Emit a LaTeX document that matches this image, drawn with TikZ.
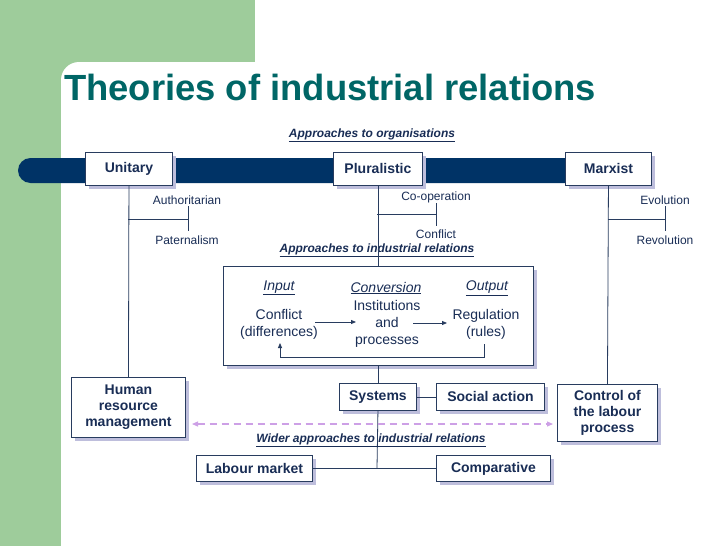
\documentclass[tikz,border=0pt]{standalone}
\usepackage{fontspec}
\setmainfont{Liberation Sans}
\usetikzlibrary{arrows.meta}
\definecolor{bggreen}{RGB}{158,204,155}
\definecolor{titleteal}{RGB}{0,102,102}
\definecolor{barnavy}{RGB}{0,51,102}
\definecolor{boxline}{RGB}{40,60,95}
\definecolor{txtnavy}{RGB}{25,45,85}
\definecolor{shadowc}{RGB}{190,190,220}
\definecolor{dashp}{RGB}{205,160,230}
\tikzset{
  box/.style={draw=boxline, line width=0.9pt, fill=white, font=\fontsize{14}{16}\selectfont\bfseries, text=txtnavy, align=center, inner sep=0pt},
  small/.style={font=\fontsize{12}{14}\selectfont, text=txtnavy, align=center, inner sep=0pt},
  inner/.style={font=\fontsize{14}{17}\selectfont, text=txtnavy, align=center, inner sep=0pt},
  head/.style={font=\fontsize{12}{14}\selectfont\bfseries\itshape, text=txtnavy, inner sep=0pt},
  conn/.style={draw=boxline, line width=0.8pt},
}
\newcommand{\shbx}[6]{% name, x1,y1,x2,y2,text
  \fill[shadowc] (#2+3.5,#3+3.5) rectangle (#4+3.5,#5+3.5);
  \node[box, minimum width=#4-#2, minimum height=#5-#3, anchor=north west] (#1) at (#2,#3) {#6};
}
\begin{document}
\begin{tikzpicture}[x=1pt,y=-1pt]
\useasboundingbox (0,0) rectangle (728,546);
% background
\fill[bggreen] (0,0) rectangle (255,90);
\fill[bggreen] (0,0) rectangle (61,546);
\fill[white] (61,546) -- (61,80) arc[start angle=180,end angle=270,radius=18] -- (728,62) -- (728,546) -- cycle;
\fill[white] (255,0) rectangle (728,62);
% title
\node[anchor=base west, font=\fontsize{36.4}{40}\selectfont\bfseries, text=titleteal, inner sep=0pt] (title) at (64,100) {Theories of industrial relations};
% heading
\node[head] (h1) at (372,135) {\underline{Approaches to organisations}};
% bar
\fill[barnavy, rounded corners=12.5pt] (18,158) rectangle (600,183);
% top boxes
\shbx{uni}{85}{152}{172}{185}{Unitary}
\shbx{plu}{333}{152}{422}{185}{Pluralistic}
\shbx{mar}{565}{152}{651}{185}{Marxist}
% sub labels
\node[small] (auth) at (187,200) {Authoritarian};
\node[small] (pat) at (187,240) {Paternalism};
\node[small] (coop) at (436,197) {Co-operation};
\node[small] (conf) at (436,234) {Conflict};
\node[small] (evo) at (665,200) {Evolution};
\node[small] (rev) at (665,240) {Revolution};
\coordinate (ut) at (188,219);
\coordinate (pt) at (436,214);
\coordinate (mt) at (665,219);
\draw[conn] (128,219) -- (ut);
\draw[conn] (188,206) -- (188,231);
\draw[conn] (377,214) -- (pt);
\draw[conn] (436,203) -- (436,226);
\draw[conn] (608,219) -- (mt);
\draw[conn] (665,206) -- (665,231);
% heading 2
\node[head] (h2) at (377,250) {\underline{Approaches to industrial relations}};
% big box
\fill[shadowc] (226.5,269.5) rectangle (536.5,368.5);
\node[draw=boxline, line width=0.9pt, fill=white, minimum width=310, minimum height=99, anchor=north west, inner sep=0pt] (big) at (223,266) {};
\node[inner, font=\fontsize{14}{17}\selectfont\itshape] (inp) at (279,288) {\underline{Input}};
\node[inner, font=\fontsize{14}{17}\selectfont\itshape] (cnv) at (386,288) {\underline{Conversion}};
\node[inner, font=\fontsize{14}{17}\selectfont\itshape] (outp) at (487,288) {\underline{Output}};
\node[inner] (cf) at (279,324) {Conflict\\(differences)};
\node[inner] (ins) at (387,324) {Institutions\\and\\processes};
\node[inner] (reg) at (486,324) {Regulation\\(rules)};
\draw[conn, -{Triangle[length=5pt,width=4pt]}] (315,322) -- (356,322);
\draw[conn, -{Triangle[length=5pt,width=4pt]}] (413,323) -- (447,323);
\draw[conn, -{Triangle[length=5pt,width=4pt]}] (484,344) -- (484,357) -- (280,357) -- (280,343);
% lower boxes
\shbx{hrm}{71}{377}{185}{437}{Human\\resource\\management}
\shbx{sys}{339}{383}{416}{410}{Systems}
\shbx{soc}{436}{383}{544}{410}{Social action}
\shbx{ctl}{557}{384}{657}{441}{Control of\\the labour\\process}
\shbx{lab}{196}{455}{312}{481}{Labour market}
\shbx{cmp}{436}{455}{550}{481}{Comparative}
% connectors
\draw[conn] (uni.south) -- (hrm.north);
\draw[conn] (mar.south) -- (ctl.north);
\draw[conn] (plu.south) -- (big.north -| plu.south);
\draw[conn] (big.south -| sys.north) -- (sys.north);
\draw[conn] (sys.east) -- (soc.west);
\coordinate (jn) at (377,468);
\draw[conn] (sys.south) -- (jn);
\draw[conn] (lab.east) -- (cmp.west);
% dashed arrow
\draw[dashp, line width=1.2pt, dash pattern=on 7pt off 5pt, {Triangle[length=6pt,width=5pt]}-{Triangle[length=6pt,width=5pt]}] (192,424) -- (553,424);
\node[head] (h3) at (371,440) {\underline{Wider approaches to industrial relations}};
\end{tikzpicture}
\end{document}
